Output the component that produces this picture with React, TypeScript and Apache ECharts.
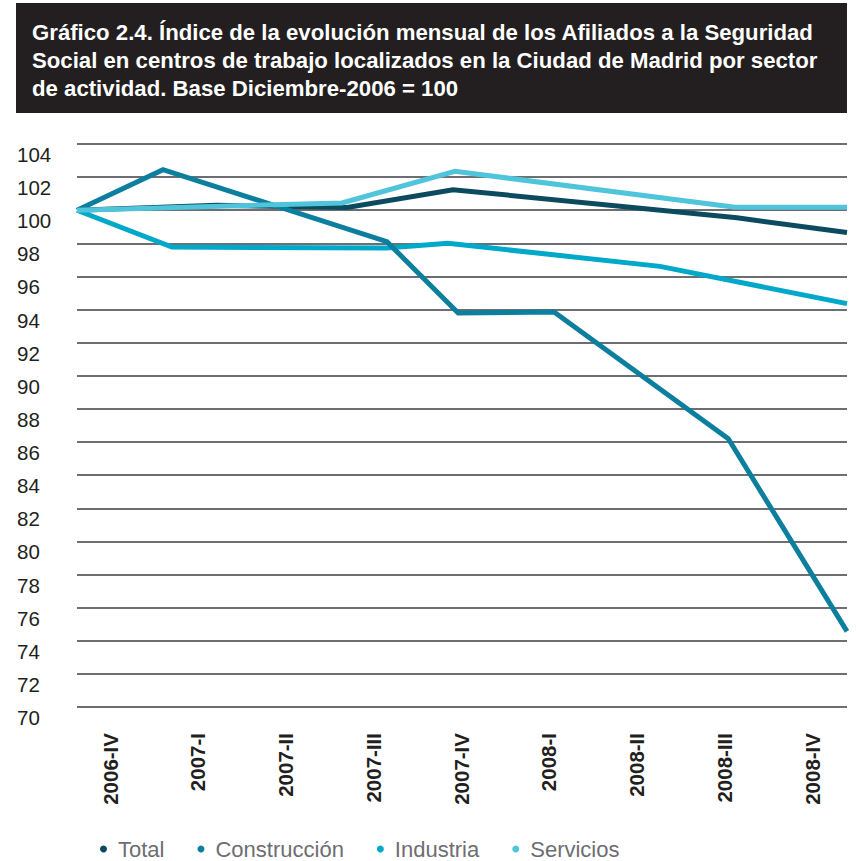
import React, { useEffect, useRef } from "react";
import * as echarts from "echarts";

// Quarter labels shown under the chart
const quarterLabels = [
  "2006-IV", "2007-I", "2007-II", "2007-III", "2007-IV",
  "2008-I", "2008-II", "2008-III", "2008-IV",
];

// x = months since December 2006, y = index (Dec-2006 = 100)
const totalPoints: [number, number][] = [
  [0, 100], [4.36, 100.3], [8.42, 100.17], [11.72, 101.24], [20.57, 99.54], [24, 98.66],
];
const construccionPoints: [number, number][] = [
  [0, 100], [2.68, 102.45], [9.66, 98.1], [11.88, 93.8], [14.87, 93.85], [20.3, 86.2], [24, 74.57],
];
const industriaPoints: [number, number][] = [
  [0, 100], [2.96, 97.78], [9.66, 97.72], [11.56, 98.0], [18.17, 96.61], [24, 94.36],
];
const serviciosPoints: [number, number][] = [
  [0, 100], [8.26, 100.44], [11.78, 102.35], [20.51, 100.18], [24, 100.18],
];

const seriesNames = ["Total", "Construcción", "Industria", "Servicios"];
const seriesColors = ["#0b4a5f", "#0b7f9d", "#00a9ca", "#4fc4da"];
const seriesZ = [1, 3, 2, 4];

const titleLines = [
  "Gráfico 2.4. Índice de la evolución mensual de los Afiliados a la Seguridad",
  "Social en centros de trabajo localizados en la Ciudad de Madrid por sector",
  "de actividad. Base Diciembre-2006 = 100",
];

export default function App() {
  const ref = useRef<HTMLDivElement>(null);
  useEffect(() => {
    document.body.style.margin = "0";
    if (!ref.current) return;
    const chart = echarts.init(ref.current, undefined, { renderer: "svg" });
    const allPoints = [totalPoints, construccionPoints, industriaPoints, serviciosPoints];
    const option: any = {
      animation: false,
      backgroundColor: "#ffffff",
      graphic: [
        { type: "rect", shape: { x: 16, y: 3, width: 831, height: 110 }, style: { fill: "#231f20" } },
        ...titleLines.map((t, i) => ({
          type: "text",
          x: 32,
          y: 32 + i * 28,
          style: {
            text: t,
            fill: "#ffffff",
            font: "bold 22.2px 'Liberation Sans', Arial, sans-serif",
            verticalAlign: "middle",
          },
        })),
      ],
      grid: [
        { left: 77, right: 9, top: 144, bottom: 154 },
        { left: 110, right: 44, top: 144, bottom: 154 },
      ],
      xAxis: [
        { type: "value", gridIndex: 0, min: 0, max: 24, show: false },
        {
          type: "category",
          gridIndex: 1,
          data: quarterLabels,
          boundaryGap: false,
          axisLine: { show: false },
          axisTick: { show: false },
          splitLine: { show: false },
          axisLabel: {
            rotate: 90,
            interval: 0,
            margin: 26,
            color: "#231f20",
            fontFamily: "'Liberation Sans', Arial, sans-serif",
            fontWeight: "bold",
            fontSize: 20.5,
          },
        },
      ],
      yAxis: [
        {
          type: "value",
          gridIndex: 0,
          min: 70,
          max: 104,
          interval: 2,
          axisLine: { show: false },
          axisTick: { show: false },
          splitLine: { show: true, lineStyle: { color: "#6d6e71", width: 2.2 } },
          axisLabel: {
            align: "left",
            margin: 60,
            verticalAlign: "top",
            color: "#231f20",
            fontFamily: "'Liberation Sans', Arial, sans-serif",
            fontSize: 20.5,
          },
        },
        { type: "value", gridIndex: 1, min: 70, max: 104, show: false },
      ],
      legend: {
        left: 100,
        top: 838,
        padding: 0,
        icon: "circle",
        itemWidth: 7,
        itemHeight: 7,
        itemGap: 33,
        data: seriesNames,
        textStyle: {
          color: "#6d6e71",
          fontFamily: "'Liberation Sans', Arial, sans-serif",
          fontSize: 22,
          lineHeight: 22,
          padding: [0, 0, 0, 6],
        },
      },
      series: seriesNames.map((name, i) => ({
        name,
        type: "line",
        xAxisIndex: 0,
        yAxisIndex: 0,
        data: allPoints[i],
        symbol: "none",
        z: seriesZ[i],
        color: seriesColors[i],
        lineStyle: { color: seriesColors[i], width: 5, join: "miter" },
      })),
    };
    chart.setOption(option);
    return () => chart.dispose();
  }, []);
  return <div ref={ref} style={{ width: 856, height: 861 }} />;
}
